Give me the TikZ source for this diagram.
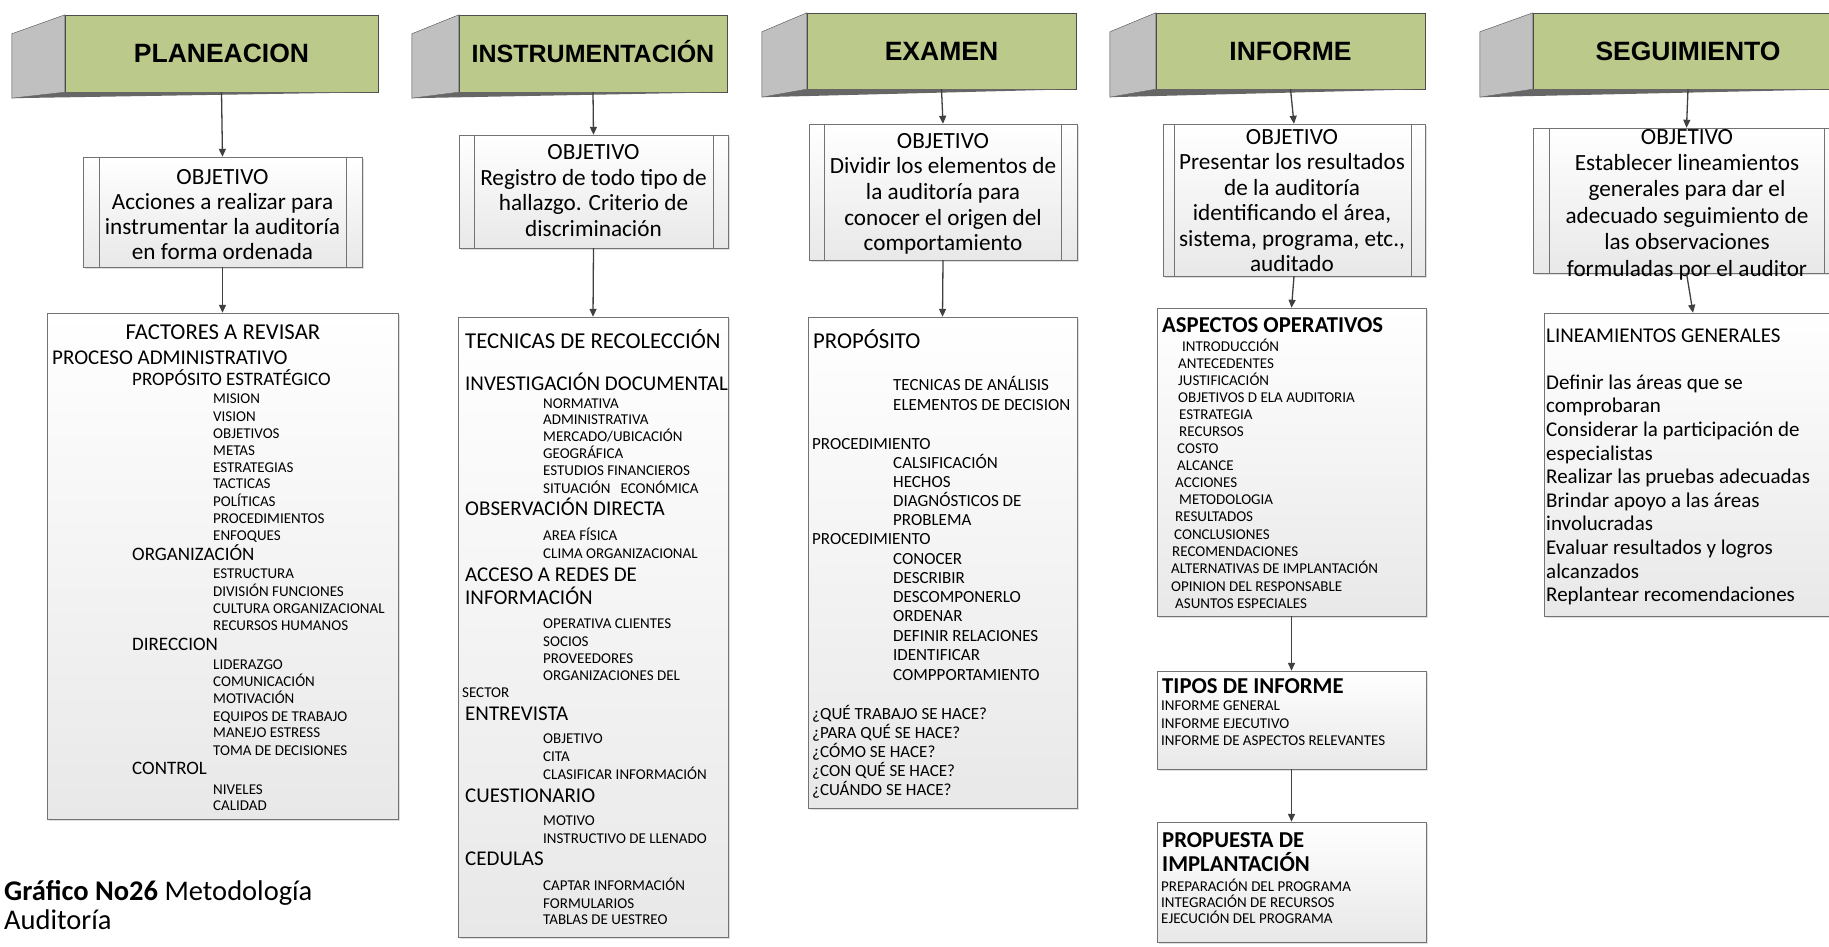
\documentclass[tikz,border=0pt]{standalone}
\usepackage{fontspec}
\setmainfont{Carlito}
\newfontfamily\hdfont{Liberation Sans}
\usetikzlibrary{arrows.meta,shadows}

\definecolor{hdgreen}{RGB}{187,201,139}
\definecolor{bevelgray}{RGB}{192,192,192}
\definecolor{linegray}{RGB}{64,64,64}

\tikzset{
  hdr/.style={draw=black!70, fill=hdgreen, inner sep=0pt, text height=19pt, text depth=0pt,
    font=\hdfont\bfseries\fontsize{26.5}{30}\selectfont},
  bevel/.style={draw=black!70, fill=bevelgray},
  lipbar/.style={fill=black!60},
  objbox/.style={draw=black!55, top color=white, bottom color=black!9, inner sep=0pt,
    drop shadow={opacity=0.25, shadow xshift=2pt, shadow yshift=-2pt}},
  objtxt/.style={align=center, inner sep=0pt, font=\fontsize{23.2}{#1}\selectfont},
  txt/.style={inner sep=0pt, anchor=base west},
  lgtext/.style={txt, font=\fontsize{22.7}{27}\selectfont},
  bftext/.style={txt, font=\bfseries\fontsize{22.7}{27}\selectfont},
  sectext/.style={txt, font=\fontsize{21}{25}\selectfont},
  subtext/.style={txt, font=\fontsize{19}{23}\selectfont},
  midtext/.style={txt, font=\fontsize{17}{20}\selectfont},
  smtext/.style={txt, font=\fontsize{15}{18}\selectfont},
  captext/.style={txt, font=\fontsize{28.5}{30}\selectfont},
  flow/.style={draw=linegray, line width=1.3pt, -{Triangle[length=8pt,width=7pt]}}
}

\begin{document}
\begin{tikzpicture}[x=1pt,y=-1pt]
  \fill[white] (0,0) rectangle (1829,947);
  \useasboundingbox (0,0) rectangle (1829,947);

  % --- PLANEACION
  \node[hdr, minimum width=313pt, minimum height=77pt] (plan) at (221.5,53.5) {PLANEACION};
  \filldraw[bevel] (plan.north west) -- ([shift={(-53,19)}]plan.north west) -- ([shift={(-53,6)}]plan.south west) -- (plan.south west) -- cycle;
  \fill[lipbar] ([shift={(-53,6)}]plan.south west) -- (plan.south east) -- (plan.south west) -- cycle;
  \node[objbox, minimum width=279pt, minimum height=110pt] (obj1) at (222.5,212) {};
  \draw[black!55] ([xshift=16pt]obj1.north west) -- ([xshift=16pt]obj1.south west);
  \draw[black!55] ([xshift=-16pt]obj1.north east) -- ([xshift=-16pt]obj1.south east);
  \node[objtxt=25] (obj1t) at (222.5,214.2) {OBJETIVO\\Acciones a realizar para\\instrumentar la auditoría\\en forma ordenada};
  \node[objbox, minimum width=351pt, minimum height=506pt] (box1) at (222.5,566) {};
  \draw[flow] (plan.south) -- (obj1.north);
  \draw[flow] (obj1.south) -- (box1.north);

  \node[lgtext, anchor=base] (a0) at (223,339) {FACTORES A REVISAR};
  \node[sectext] (a1) at (52,364) {PROCESO ADMINISTRATIVO};
  \node[subtext] (a2) at (132,385) {PROPÓSITO ESTRATÉGICO};
  \node[smtext] (a3) at (213,403) {MISION};
  \node[smtext] (a4) at (213,421) {VISION};
  \node[smtext] (a5) at (213,438) {OBJETIVOS};
  \node[smtext] (a6) at (213,455) {METAS};
  \node[smtext] (a7) at (213,472) {ESTRATEGIAS};
  \node[smtext] (a8) at (213,488) {TACTICAS};
  \node[smtext] (a9) at (213,506) {POLÍTICAS};
  \node[smtext] (a10) at (213,523) {PROCEDIMIENTOS};
  \node[smtext] (a11) at (213,540) {ENFOQUES};
  \node[subtext] (a12) at (132,560) {ORGANIZACIÓN};
  \node[smtext] (a13) at (213,578) {ESTRUCTURA};
  \node[smtext] (a14) at (213,596) {DIVISIÓN FUNCIONES};
  \node[smtext] (a15) at (213,613) {CULTURA ORGANIZACIONAL};
  \node[smtext] (a16) at (213,630) {RECURSOS HUMANOS};
  \node[subtext] (a17) at (132,650) {DIRECCION};
  \node[smtext] (a18) at (213,669) {LIDERAZGO};
  \node[smtext] (a19) at (213,686) {COMUNICACIÓN};
  \node[smtext] (a20) at (213,703) {MOTIVACIÓN};
  \node[smtext] (a21) at (213,721) {EQUIPOS DE TRABAJO};
  \node[smtext] (a22) at (213,737) {MANEJO ESTRESS};
  \node[smtext] (a23) at (213,755) {TOMA DE DECISIONES};
  \node[subtext] (a24) at (132,774) {CONTROL};
  \node[smtext] (a25) at (213,794) {NIVELES};
  \node[smtext] (a26) at (213,810) {CALIDAD};

  % --- INSTRUMENTACION
  \node[hdr, minimum width=268pt, minimum height=77pt, font=\hdfont\bfseries\fontsize{25}{30}\selectfont] (instr) at (593,53.5) {INSTRUMENTACIÓN};
  \filldraw[bevel] (instr.north west) -- ([shift={(-47,19)}]instr.north west) -- ([shift={(-47,6)}]instr.south west) -- (instr.south west) -- cycle;
  \fill[lipbar] ([shift={(-47,6)}]instr.south west) -- (instr.south east) -- (instr.south west) -- cycle;
  \node[objbox, minimum width=269pt, minimum height=113pt] (obj2) at (593.5,191.5) {};
  \draw[black!55] ([xshift=15pt]obj2.north west) -- ([xshift=15pt]obj2.south west);
  \draw[black!55] ([xshift=-15pt]obj2.north east) -- ([xshift=-15pt]obj2.south east);
  \node[objtxt=25.5] (obj2t) at (593.5,190.5) {OBJETIVO\\Registro de todo tipo de\\hallazgo. Criterio de\\discriminación};
  \node[objbox, minimum width=270pt, minimum height=620pt] (box2) at (593,627) {};
  \draw[flow] (instr.south) -- (obj2.north);
  \draw[flow] (obj2.south) -- (box2.north);

  \node[lgtext] (b0) at (465,348) {TECNICAS DE RECOLECCIÓN};
  \node[sectext] (b1) at (465,390) {INVESTIGACIÓN DOCUMENTAL};
  \node[smtext] (b2) at (543,408) {NORMATIVA};
  \node[smtext] (b3) at (543,424) {ADMINISTRATIVA};
  \node[smtext] (b4) at (543,441) {MERCADO/UBICACIÓN};
  \node[smtext] (b5) at (543,458) {GEOGRÁFICA};
  \node[smtext] (b6) at (543,475) {ESTUDIOS FINANCIEROS};
  \node[smtext] (b7) at (543,493) {SITUACIÓN\ \ \ ECONÓMICA};
  \node[sectext] (b8) at (465,515) {OBSERVACIÓN DIRECTA};
  \node[smtext] (b9) at (543,540) {AREA FÍSICA};
  \node[smtext] (b10) at (543,558) {CLIMA ORGANIZACIONAL};
  \node[sectext] (b11) at (465,581) {ACCESO A REDES DE};
  \node[sectext] (b12) at (465,604) {INFORMACIÓN};
  \node[smtext] (b13) at (543,628) {OPERATIVA CLIENTES};
  \node[smtext] (b14) at (543,646) {SOCIOS};
  \node[smtext] (b15) at (543,663) {PROVEEDORES};
  \node[smtext] (b16) at (543,680) {ORGANIZACIONES DEL};
  \node[smtext] (b17) at (462,697) {SECTOR};
  \node[sectext] (b18) at (465,720) {ENTREVISTA};
  \node[smtext] (b19) at (543,743) {OBJETIVO};
  \node[smtext] (b20) at (543,761) {CITA};
  \node[smtext] (b21) at (543,779) {CLASIFICAR INFORMACIÓN};
  \node[sectext] (b22) at (465,802) {CUESTIONARIO};
  \node[smtext] (b23) at (543,825) {MOTIVO};
  \node[smtext] (b24) at (543,843) {INSTRUCTIVO DE LLENADO};
  \node[sectext] (b25) at (465,865) {CEDULAS};
  \node[smtext] (b26) at (543,890) {CAPTAR INFORMACIÓN};
  \node[smtext] (b27) at (543,908) {FORMULARIOS};
  \node[smtext] (b28) at (543,924) {TABLAS DE UESTREO};

  % --- EXAMEN
  \node[hdr, minimum width=269pt, minimum height=76pt] (exam) at (941.5,51) {EXAMEN};
  \filldraw[bevel] (exam.north west) -- ([shift={(-45,19)}]exam.north west) -- ([shift={(-45,8)}]exam.south west) -- (exam.south west) -- cycle;
  \fill[lipbar] ([shift={(-45,8)}]exam.south west) -- (exam.south east) -- (exam.south west) -- cycle;
  \node[objbox, minimum width=268pt, minimum height=136pt] (obj3) at (943,192) {};
  \draw[black!55] ([xshift=15pt]obj3.north west) -- ([xshift=15pt]obj3.south west);
  \draw[black!55] ([xshift=-16pt]obj3.north east) -- ([xshift=-16pt]obj3.south east);
  \node[objtxt=25.6] (obj3t) at (943,193.8) {OBJETIVO\\Dividir los elementos de\\la auditoría para\\conocer el origen del\\comportamiento};
  \node[objbox, minimum width=269pt, minimum height=491pt] (box3) at (942.5,562.5) {};
  \draw[flow] (exam.south) -- (obj3.north);
  \draw[flow] (obj3.south) -- (box3.north);

  \node[lgtext] (c0) at (813,348) {PROPÓSITO};
  \node[midtext] (c1) at (893,390) {TECNICAS DE ANÁLISIS};
  \node[midtext] (c2) at (893,410) {ELEMENTOS DE DECISION};
  \node[midtext] (c3) at (812,449) {PROCEDIMIENTO};
  \node[midtext] (c4) at (893,468) {CALSIFICACIÓN};
  \node[midtext] (c5) at (893,487) {HECHOS};
  \node[midtext] (c6) at (893,506) {DIAGNÓSTICOS DE};
  \node[midtext] (c7) at (893,525) {PROBLEMA};
  \node[midtext] (c8) at (812,544) {PROCEDIMIENTO};
  \node[midtext] (c9) at (893,564) {CONOCER};
  \node[midtext] (c10) at (893,583) {DESCRIBIR};
  \node[midtext] (c11) at (893,602) {DESCOMPONERLO};
  \node[midtext] (c12) at (893,621) {ORDENAR};
  \node[midtext] (c13) at (893,641) {DEFINIR RELACIONES};
  \node[midtext] (c14) at (893,660) {IDENTIFICAR};
  \node[midtext] (c15) at (893,680) {COMPPORTAMIENTO};
  \node[midtext] (c16) at (812,719) {¿QUÉ TRABAJO SE HACE?};
  \node[midtext] (c17) at (812,738) {¿PARA QUÉ SE HACE?};
  \node[midtext] (c18) at (812,757) {¿CÓMO SE HACE?};
  \node[midtext] (c19) at (812,776) {¿CON QUÉ SE HACE?};
  \node[midtext] (c20) at (812,795) {¿CUÁNDO SE HACE?};

  % --- INFORME
  \node[hdr, minimum width=269pt, minimum height=76pt] (inf) at (1290.5,51) {INFORME};
  \filldraw[bevel] (inf.north west) -- ([shift={(-46,19)}]inf.north west) -- ([shift={(-46,8)}]inf.south west) -- (inf.south west) -- cycle;
  \fill[lipbar] ([shift={(-46,8)}]inf.south west) -- (inf.south east) -- (inf.south west) -- cycle;
  \node[objbox, minimum width=262pt, minimum height=152pt] (obj4) at (1294,200) {};
  \draw[black!55] ([xshift=11pt]obj4.north west) -- ([xshift=11pt]obj4.south west);
  \draw[black!55] ([xshift=-14pt]obj4.north east) -- ([xshift=-14pt]obj4.south east);
  \node[objtxt=25.4] (obj4t) at (1292,200.5) {OBJETIVO\\Presentar los resultados\\de la auditoría\\identificando el área,\\sistema, programa, etc.,\\auditado};
  \node[objbox, minimum width=269pt, minimum height=308pt] (box4) at (1291.5,462) {};
  \node[objbox, minimum width=269pt, minimum height=98pt] (tipos) at (1291.5,720) {};
  \node[objbox, minimum width=269pt, minimum height=120pt] (prop) at (1291.5,882) {};
  \draw[flow] (inf.south) -- (obj4.north);
  \draw[flow] (obj4.south) -- (box4.north);
  \draw[flow] (box4.south) -- (tipos.north);
  \draw[flow] (tipos.south) -- (prop.north);

  \node[bftext] (d0) at (1162,332) {ASPECTOS OPERATIVOS};
  \node[smtext] (d1) at (1182,351) {INTRODUCCIÓN};
  \node[smtext] (d2) at (1178,368) {ANTECEDENTES};
  \node[smtext] (d3) at (1178,385) {JUSTIFICACIÓN};
  \node[smtext] (d4) at (1178,402) {OBJETIVOS D ELA AUDITORIA};
  \node[smtext] (d5) at (1179,419) {ESTRATEGIA};
  \node[smtext] (d6) at (1179,436) {RECURSOS};
  \node[smtext] (d7) at (1177,453) {COSTO};
  \node[smtext] (d8) at (1177,470) {ALCANCE};
  \node[smtext] (d9) at (1175,487) {ACCIONES};
  \node[smtext] (d10) at (1179,504) {METODOLOGIA};
  \node[smtext] (d11) at (1175,521) {RESULTADOS};
  \node[smtext] (d12) at (1174,539) {CONCLUSIONES};
  \node[smtext] (d13) at (1172,556) {RECOMENDACIONES};
  \node[smtext] (d14) at (1171,573) {ALTERNATIVAS DE IMPLANTACIÓN};
  \node[smtext] (d15) at (1171,591) {OPINION DEL RESPONSABLE};
  \node[smtext] (d16) at (1175,608) {ASUNTOS ESPECIALES};
  \node[bftext] (d17) at (1162,693) {TIPOS DE INFORME};
  \node[smtext] (d18) at (1161,710) {INFORME GENERAL};
  \node[smtext] (d19) at (1161,728) {INFORME EJECUTIVO};
  \node[smtext] (d20) at (1161,745) {INFORME DE ASPECTOS RELEVANTES};
  \node[bftext] (d21) at (1162,847) {PROPUESTA DE};
  \node[bftext] (d22) at (1162,871) {IMPLANTACIÓN};
  \node[smtext] (d23) at (1161,891) {PREPARACIÓN DEL PROGRAMA};
  \node[smtext] (d24) at (1161,907) {INTEGRACIÓN DE RECURSOS};
  \node[smtext] (d25) at (1161,923) {EJECUCIÓN DEL PROGRAMA};

  % --- SEGUIMIENTO
  \node[hdr, minimum width=310pt, minimum height=76pt] (seg) at (1688,51) {SEGUIMIENTO};
  \filldraw[bevel] (seg.north west) -- ([shift={(-53,19)}]seg.north west) -- ([shift={(-53,8)}]seg.south west) -- (seg.south west) -- cycle;
  \fill[lipbar] ([shift={(-53,8)}]seg.south west) -- (seg.south east) -- (seg.south west) -- cycle;
  \node[objbox, minimum width=307pt, minimum height=145pt] (obj5) at (1686.5,200.5) {};
  \draw[black!55] ([xshift=16pt]obj5.north west) -- ([xshift=16pt]obj5.south west);
  \draw[black!55] ([xshift=-16pt]obj5.north east) -- ([xshift=-16pt]obj5.south east);
  \node[objtxt=26.4] (obj5t) at (1687,204.5) {OBJETIVO\\Establecer lineamientos\\generales para dar el\\adecuado seguimiento de\\las observaciones\\formuladas por el auditor};
  \node[objbox, minimum width=298pt, minimum height=303pt] (box5) at (1693,464.5) {};
  \draw[flow] (seg.south) -- (obj5.north);
  \draw[flow] (obj5.south) -- (box5.north);

  \node[sectext] (e0) at (1546,342) {LINEAMIENTOS GENERALES};
  \node[sectext] (e1) at (1546,389) {Definir las áreas que se};
  \node[sectext] (e2) at (1546,412.5) {comprobaran};
  \node[sectext] (e3) at (1546,436) {Considerar la participación de};
  \node[sectext] (e4) at (1546,460) {especialistas};
  \node[sectext] (e5) at (1546,483.5) {Realizar las pruebas adecuadas};
  \node[sectext] (e6) at (1546,507) {Brindar apoyo a las áreas};
  \node[sectext] (e7) at (1546,530.5) {involucradas};
  \node[sectext] (e8) at (1546,554) {Evaluar resultados y logros};
  \node[sectext] (e9) at (1546,578) {alcanzados};
  \node[sectext] (e10) at (1546,601.5) {Replantear recomendaciones};

  % --- pie
  \node[captext] (cap1) at (4,900) {\textbf{Gráfico No26} Metodología};
  \node[captext] (cap2) at (4,929) {Auditoría};
\end{tikzpicture}
\end{document}
